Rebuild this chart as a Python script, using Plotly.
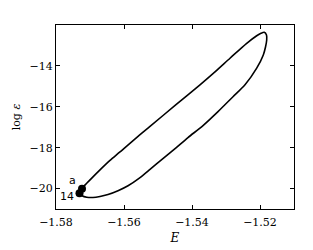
import plotly.graph_objects as go

# Loop data (E, log eps): upper branch from lower-left to tip, then lower branch back
E_loop = [-1.57294, -1.57221, -1.57097, -1.56912, -1.56706, -1.56412, -1.56118,
          -1.55647, -1.55235, -1.54471, -1.53765, -1.53324, -1.52882, -1.52391,
          -1.52097, -1.51971, -1.51874, -1.51809, -1.51803, -1.51838, -1.51903,
          -1.52097, -1.52441, -1.52794, -1.53235, -1.53676, -1.54118, -1.54471,
          -1.54882, -1.55235, -1.55559, -1.55882, -1.56176, -1.56471, -1.56706,
          -1.56912, -1.57097, -1.57235, -1.57309, -1.57309, -1.57294]
logeps_loop = [-20.131, -19.961, -19.742, -19.426, -19.085, -18.623, -18.209,
               -17.528, -16.959, -15.898, -14.925, -14.292, -13.625, -12.895,
               -12.526, -12.404, -12.360, -12.491, -12.735, -13.075, -13.465,
               -14.112, -14.925, -15.509, -16.238, -16.920, -17.504, -18.005,
               -18.574, -19.061, -19.499, -19.864, -20.107, -20.292, -20.389,
               -20.438, -20.423, -20.350, -20.253, -20.180, -20.131]

# Marked points
marker_E = [-1.57235, -1.57309]
marker_logeps = [-20.010, -20.229]
marker_labels = ["a", "14"]

x_ticks = [-1.58, -1.56, -1.54, -1.52]
y_ticks = [-20, -18, -16, -14]

def fmt(v, d):
    s = f"{abs(v):.{d}f}"
    return ("\u2212" + s) if v < 0 else s

fig = go.Figure()
fig.add_trace(go.Scatter(x=E_loop, y=logeps_loop, mode="lines",
                         line=dict(color="black", width=1.6, shape="spline", smoothing=0.8),
                         hoverinfo="skip", showlegend=False))
fig.add_trace(go.Scatter(x=marker_E, y=marker_logeps, mode="markers",
                         marker=dict(color="black", size=8),
                         showlegend=False))

label_offsets = [(-10, 8), (-12, -3)]
for e, l, t, (dx, dy) in zip(marker_E, marker_logeps, marker_labels, label_offsets):
    fig.add_annotation(x=e, y=l, text=t, showarrow=False, xshift=dx, yshift=dy,
                       xanchor="center", yanchor="middle",
                       font=dict(family="DejaVu Sans", size=11, color="black"))

axis_font = dict(family="DejaVu Serif", size=11, color="black")
fig.update_xaxes(range=[-1.58, -1.51], tickvals=x_ticks,
                 ticktext=[fmt(v, 2) for v in x_ticks],
                 ticks="inside", ticklen=4, tickcolor="black", tickwidth=1,
                 showline=True, linecolor="black", linewidth=1.2, mirror="ticks",
                 showgrid=False, zeroline=False, tickfont=axis_font, automargin=False,
                 ticklabelstandoff=3,
                 title=dict(text="<i>E</i>", font=dict(family="DejaVu Serif", size=12, color="black"), standoff=5))
fig.update_yaxes(range=[-21, -12], tickvals=y_ticks,
                 ticktext=[fmt(v, 0) for v in y_ticks],
                 ticks="inside", ticklen=4, tickcolor="black", tickwidth=1,
                 showline=True, linecolor="black", linewidth=1.2, mirror="ticks",
                 showgrid=False, zeroline=False, tickfont=axis_font, automargin=False,
                 title=dict(text="log <i>ε</i>", font=dict(family="DejaVu Serif", size=11, color="black"), standoff=6))
# page body has an 8px default margin; compensate so the plot frame lands where the reference's does
fig.update_layout(width=305, height=242, margin=dict(l=48, r=19, t=17, b=41),
                  paper_bgcolor="white", plot_bgcolor="white")
fig.write_html("out.html")
